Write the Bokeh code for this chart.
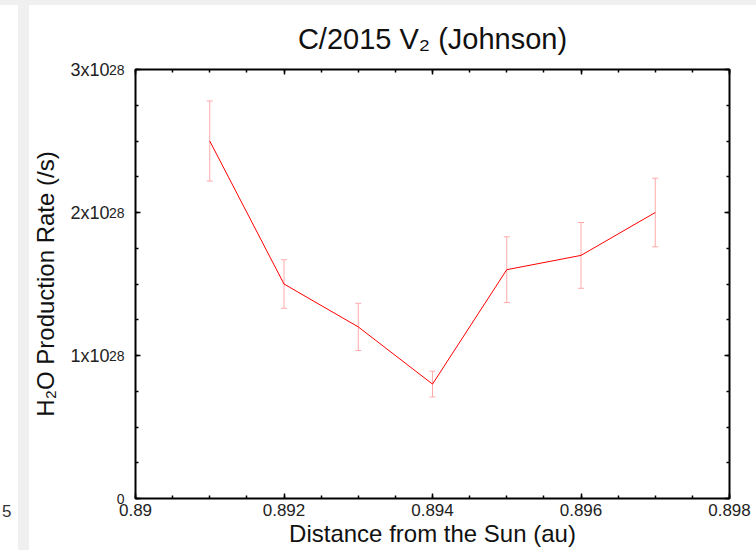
import numpy as np
from bokeh.plotting import figure
from bokeh.models import (ColumnDataSource, Whisker, TeeHead, FixedTicker,
                          LinearAxis, Range1d, Div, CustomLabelingPolicy)
from bokeh.layouts import row, column
from bokeh.embed import file_html
from bokeh.resources import INLINE

# ---- data ----
distance = [0.891, 0.892, 0.893, 0.894, 0.895, 0.896, 0.897]
rate = [2.5e28, 1.5e28, 1.2e28, 0.8e28, 1.6e28, 1.7e28, 2.0e28]
rate_err = [0.28e28, 0.17e28, 0.165e28, 0.09e28, 0.23e28, 0.23e28, 0.24e28]

x_ticks = [0.890, 0.892, 0.894, 0.896, 0.898]
x_tick_labels = ["0.89", "0.892", "0.894", "0.896", "0.898"]
y_ticks = [0, 1e28, 2e28, 3e28]
y_tick_mantissas = ["0", "1x10", "2x10", "3x10"]
y_tick_exponents = ["", "28", "28", "28"]

FONT = "Liberation Sans"

src = ColumnDataSource(dict(
    x=distance, y=rate,
    upper=[r + e for r, e in zip(rate, rate_err)],
    lower=[r - e for r, e in zip(rate, rate_err)],
))

p = figure(width=727, height=545, x_range=Range1d(0.89, 0.898),
           y_range=Range1d(0, 3e28), output_backend="svg",
           toolbar_location=None, min_border_left=105, min_border_right=27,
           min_border_top=64, min_border_bottom=52)
p.background_fill_color = "white"
p.border_fill_color = "white"
p.grid.visible = False
p.outline_line_color = "black"
p.outline_line_width = 2

p.title.text = "C/2015 V₂ (Johnson)"
p.title.align = "center"
p.title.vertical_align = "bottom"
p.title.text_font = FONT
p.title.text_font_size = "29px"
p.title.text_font_style = "normal"
p.title.text_color = "#111111"
p.title.standoff = 30

x_minor = list(np.arange(0.8900, 0.89801, 0.0005))
y_minor = list(np.arange(0, 3.0001e28, 0.25e28))

NO_LABELS = "return new Set()"

def style_axis(ax, ticks, minor):
    ax.ticker = FixedTicker(ticks=ticks, minor_ticks=minor)
    ax.axis_line_color = None
    ax.major_tick_in = 5
    ax.major_tick_out = 0
    ax.minor_tick_in = 3
    ax.minor_tick_out = 0
    ax.major_tick_line_color = "black"
    ax.minor_tick_line_color = "black"
    ax.major_tick_line_width = 1.5
    ax.minor_tick_line_width = 1.5

def mirror_axis(ticks, minor):
    ax = LinearAxis()
    style_axis(ax, ticks, minor)
    ax.major_label_overrides = {t: "" for t in ticks}
    ax.major_label_text_font_size = "0px"
    ax.major_label_standoff = 0
    ax.major_label_policy = CustomLabelingPolicy(code=NO_LABELS)
    return ax

# bottom axis
xa = p.xaxis[0]
style_axis(xa, x_ticks, x_minor)
xa.major_label_overrides = dict(zip(x_ticks, x_tick_labels))
xa.major_label_text_font = FONT
xa.major_label_text_font_size = "17px"
xa.major_label_text_color = "#222222"
xa.major_label_standoff = 5
xa.axis_label = "Distance from the Sun (au)"
xa.axis_label_text_font = FONT
xa.axis_label_text_font_size = "24px"
xa.axis_label_text_font_style = "normal"
xa.axis_label_text_color = "#111111"
xa.axis_label_standoff = 1

# left axis (nearest the frame): ticks, "0" and the superscript exponents
ya = p.yaxis[0]
style_axis(ya, y_ticks, y_minor)
ya.major_label_overrides = {t: (e if e else m) for t, m, e in
                            zip(y_ticks, y_tick_mantissas, y_tick_exponents)}
ya.major_label_text_font = FONT
ya.major_label_text_font_size = "14px"
ya.major_label_text_color = "#222222"
ya.major_label_text_baseline = "bottom"
ya.major_label_standoff = 11

# second left axis: the mantissas "Nx10" and the axis title
yb = LinearAxis(ticker=FixedTicker(ticks=[t for t, e in zip(y_ticks, y_tick_exponents) if e]))
yb.axis_line_color = None
yb.major_tick_line_color = None
yb.minor_tick_line_color = None
yb.major_tick_in = 0
yb.major_tick_out = 0
yb.minor_tick_in = 0
yb.minor_tick_out = 0
yb.major_label_overrides = {t: m for t, m, e in
                            zip(y_ticks, y_tick_mantissas, y_tick_exponents) if e}
yb.major_label_text_font = FONT
yb.major_label_text_font_size = "18px"
yb.major_label_text_color = "#222222"
yb.major_label_standoff = -4
yb.axis_label = "H₂O Production Rate (/s)"
yb.axis_label_text_font = FONT
yb.axis_label_text_font_size = "24px"
yb.axis_label_text_font_style = "normal"
yb.axis_label_text_color = "#111111"
yb.axis_label_standoff = 8
p.add_layout(yb, "left")

# mirrored ticks on top and right
p.add_layout(mirror_axis(x_ticks, x_minor), "above")
p.add_layout(mirror_axis(y_ticks, y_minor), "right")

p.add_layout(Whisker(source=src, base="x", upper="upper", lower="lower",
                     line_color="#ffaaaa", line_width=1,
                     upper_head=TeeHead(size=6, line_color="#ffaaaa", line_width=1),
                     lower_head=TeeHead(size=6, line_color="#ffaaaa", line_width=1)))
p.line("x", "y", source=src, line_color="#ff0000", line_width=1)

gray = "#f0f0f0"
top_bar = Div(text="", width=756, height=5, margin=0,
              styles={"background-color": gray})
left_white = Div(text='<div style="position:absolute;top:497px;left:2px;'
                      'font:17px Liberation Sans;color:#333">5</div>',
                 width=18, height=545, margin=0,
                 styles={"background-color": "white", "position": "relative"})
left_gray = Div(text="", width=11, height=545, margin=0,
                styles={"background-color": gray})
layout = column(top_bar, row(left_white, left_gray, p, spacing=0), spacing=0)

open("out.html", "w").write(file_html(layout, INLINE))
